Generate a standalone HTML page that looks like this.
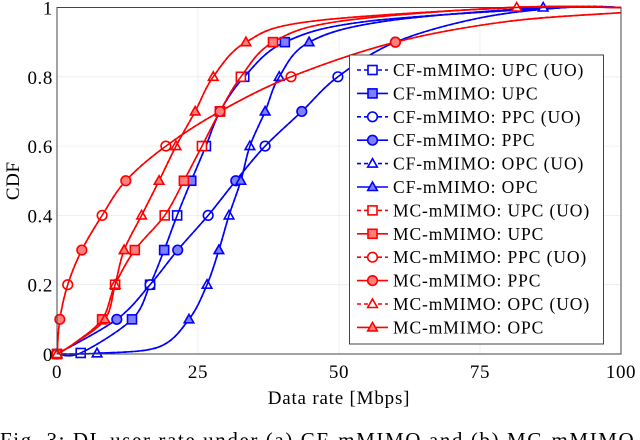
<!DOCTYPE html>
<html><head><meta charset="utf-8"><style>
body{margin:0;background:#fff;}
svg{display:block;font-family:"Liberation Serif",serif;}
</style></head><body>
<svg id="chart" width="640" height="440" viewBox="0 0 640 440"></svg>
<script>
const xTicks=[0,25,50,75,100];
const yTicks=[0,0.2,0.4,0.6,0.8,1];
const yTickLabels=["0","0.2","0.4","0.6","0.8","1"];
// series data: x values (Mbps) and CDF values
const cfUpcX=[0,4.2,13.3,16.5,19,21.3,23.8,26.4,28.9,33.2,40.4,55,90,100];
const cfUpcY=[0,0.003,0.1,0.2,0.3,0.4,0.5,0.6,0.7,0.8,0.9,0.96,1,1];
const cfPpcX=[0,10.6,16.5,21.4,26.8,31.7,36.9,43.4,49.8,60,75,90,100];
const cfPpcY=[0,0.1,0.2,0.3,0.4,0.5,0.6,0.7,0.8,0.9,0.97,1,1];
const cfOpcX=[0,7.1,18,23.4,26.6,28.7,30.5,32.6,34.2,36.9,39.4,44.7,58,86.2,100];
const cfOpcY=[0,0.002,0.02,0.1,0.2,0.3,0.4,0.5,0.6,0.7,0.8,0.9,0.96,1,1];
const mcUpcX=[0,3,8,10.3,13.8,19.1,22.5,25.7,28.9,32.6,38.3,50,80,100];
const mcUpcY=[0,0.03,0.1,0.2,0.3,0.4,0.5,0.6,0.7,0.8,0.9,0.96,1,1];
const mcPpcX=[0,0.5,1.9,4.4,8,12.2,19.3,28.9,41.5,60,80,100];
const mcPpcY=[0,0.1,0.2,0.3,0.4,0.5,0.6,0.7,0.8,0.9,0.96,0.985];
const mcOpcX=[0,3,8.5,10.3,11.9,15,18.1,21.1,24.5,27.7,33.5,45,81.5,100];
const mcOpcY=[0,0.03,0.1,0.2,0.3,0.4,0.5,0.6,0.7,0.8,0.9,0.96,1,1];
const seriesNames=["CF-mMIMO: UPC (UO)","CF-mMIMO: UPC","CF-mMIMO: PPC (UO)","CF-mMIMO: PPC","CF-mMIMO: OPC (UO)","CF-mMIMO: OPC","MC-mMIMO: UPC (UO)","MC-mMIMO: UPC","MC-mMIMO: PPC (UO)","MC-mMIMO: PPC","MC-mMIMO: OPC (UO)","MC-mMIMO: OPC"];

const NS="http://www.w3.org/2000/svg";
const svg=document.getElementById('chart');
const X0=57,X1=621,Y0=354,Y1=7.5;
const sx=v=>X0+(v-0)/(100-0)*(X1-X0);
const sy=v=>Y0-(v-0)/(1-0)*(Y0-Y1);
function mk(tag,attrs,parent){const e=document.createElementNS(NS,tag);for(const k in attrs)e.setAttribute(k,attrs[k]);(parent||svg).appendChild(e);return e;}

yTicks.forEach((t,i)=>{
  const g=mk('line',{x1:X0,x2:X1,y1:sy(t),y2:sy(t),stroke:'#ececec','stroke-width':0.8});
  
  
  const lb=mk('text',{x:X0-4,y:sy(t)+7,'text-anchor':'end','font-size':19,'letter-spacing':0.6});
  lb.textContent=yTickLabels[i];
  
  
});
xTicks.forEach(t=>{
  const g=mk('line',{x1:sx(t),x2:sx(t),y1:Y0,y2:Y1,stroke:'#ececec','stroke-width':0.8});
  
  
  const lb=mk('text',{x:sx(t),y:Y0+24,'text-anchor':'middle','font-size':19,'letter-spacing':0.6});
  lb.textContent=String(t);
  
  
});

function smoothPath(xs,ys){
  const p=xs.map((x,i)=>[sx(x),sy(ys[i])]);
  let d='M'+p[0][0]+','+p[0][1];
  for(let i=0;i<p.length-1;i++){
    const p0=p[i-1]||p[i],p1=p[i],p2=p[i+1],p3=p[i+2]||p2;
    const c1=[p1[0]+(p2[0]-p0[0])/6,p1[1]+(p2[1]-p0[1])/6];
    const c2=[p2[0]-(p3[0]-p1[0])/6,p2[1]-(p3[1]-p1[1])/6];
    d+=` C${c1[0]},${c1[1]} ${c2[0]},${c2[1]} ${p2[0]},${p2[1]}`;
  }
  return d;
}
function marker(shape,cx,cy,color,filled,parent){
  const fill=filled?(color==='blue'?'#7f7fff':'#ff7f7f'):'#fff';
  let e;
  if(shape==='sq') e=mk('rect',{x:cx-4.5,y:cy-4.5,width:9,height:9,fill:fill,stroke:color,'stroke-width':1.6},parent);
  else if(shape==='ci') e=mk('circle',{cx:cx,cy:cy,r:4.8,fill:fill,stroke:color,'stroke-width':1.6},parent);
  else e=mk('path',{d:`M${cx},${cy-5} L${cx+4.8},${cy+3.5} L${cx-4.8},${cy+3.5}Z`,fill:fill,stroke:color,'stroke-width':1.6},parent);
  return e;
}
const allSeries=[
 [cfUpcX,cfUpcY,'blue','sq'],[cfPpcX,cfPpcY,'blue','ci'],[cfOpcX,cfOpcY,'blue','tr'],
 [mcUpcX,mcUpcY,'red','sq'],[mcPpcX,mcPpcY,'red','ci'],[mcOpcX,mcOpcY,'red','tr']];
allSeries.forEach((s,si)=>{
  const [xs,ys,col,shape]=s;
  [true,false].forEach((uo,k)=>{
    const g=mk('g',{});
    
    
    mk('path',{d:smoothPath(xs,ys),fill:'none',stroke:col,'stroke-width':1.6,'stroke-dasharray':uo?'4,2':'none'},g);
    const firstOne=xs.findIndex((v,j)=>ys[j]>=1);
    xs.forEach((x,i)=>{
      const y=ys[i];
      const top=(y>=1&&i===firstOne&&shape==='tr');
      if(y<=0.9+1e-9 || top){
        const idx=Math.round(y*10);
        const isUO=(idx%2===0);
        if(isUO===uo && !(y>0.005&&y<0.05)){
          const m=marker(shape,sx(x),sy(y),col,!uo,g);
          
          
        }
      }
    });
  });
});
const box=mk('rect',{x:X0,y:Y1,width:X1-X0,height:Y0-Y1,fill:'none',stroke:'#444','stroke-width':1});



const lg=mk('g',{});


mk('rect',{x:349.5,y:55,width:254,height:289,fill:'#fff',stroke:'#444','stroke-width':1},lg);
seriesNames.forEach((n,i)=>{
  const e=mk('g',{},lg);
  
  
  const col=i<6?'blue':'red';
  const shape=['sq','ci','tr'][Math.floor((i%6)/2)];
  const uo=i%2===0;
  const y=70+i*23.4;
  mk('line',{x1:357,x2:388,y1:y,y2:y,stroke:col,'stroke-width':1.6,'stroke-dasharray':uo?'4,3':'none'},e);
  marker(shape,372.5,y,col,!uo,e);
  const t=mk('text',{x:393,y:y+6,'font-size':17.5,'letter-spacing':0.9},e);
  t.textContent=n;
});

const xl=mk('text',{x:339,y:404,'text-anchor':'middle','font-size':19,'letter-spacing':0.8});
xl.textContent='Data rate [Mbps]';


const yl=mk('text',{x:0,y:0,'text-anchor':'middle','font-size':19,'letter-spacing':0.6,transform:`translate(19,${(Y0+Y1)/2}) rotate(-90)`});
yl.textContent='CDF';


const cap=mk('text',{x:0,y:447,'font-size':21,'letter-spacing':1.6});
cap.textContent='Fig. 3: DL user rate under (a) CF-mMIMO and (b) MC-mMIMO';


</script>
</body></html>
